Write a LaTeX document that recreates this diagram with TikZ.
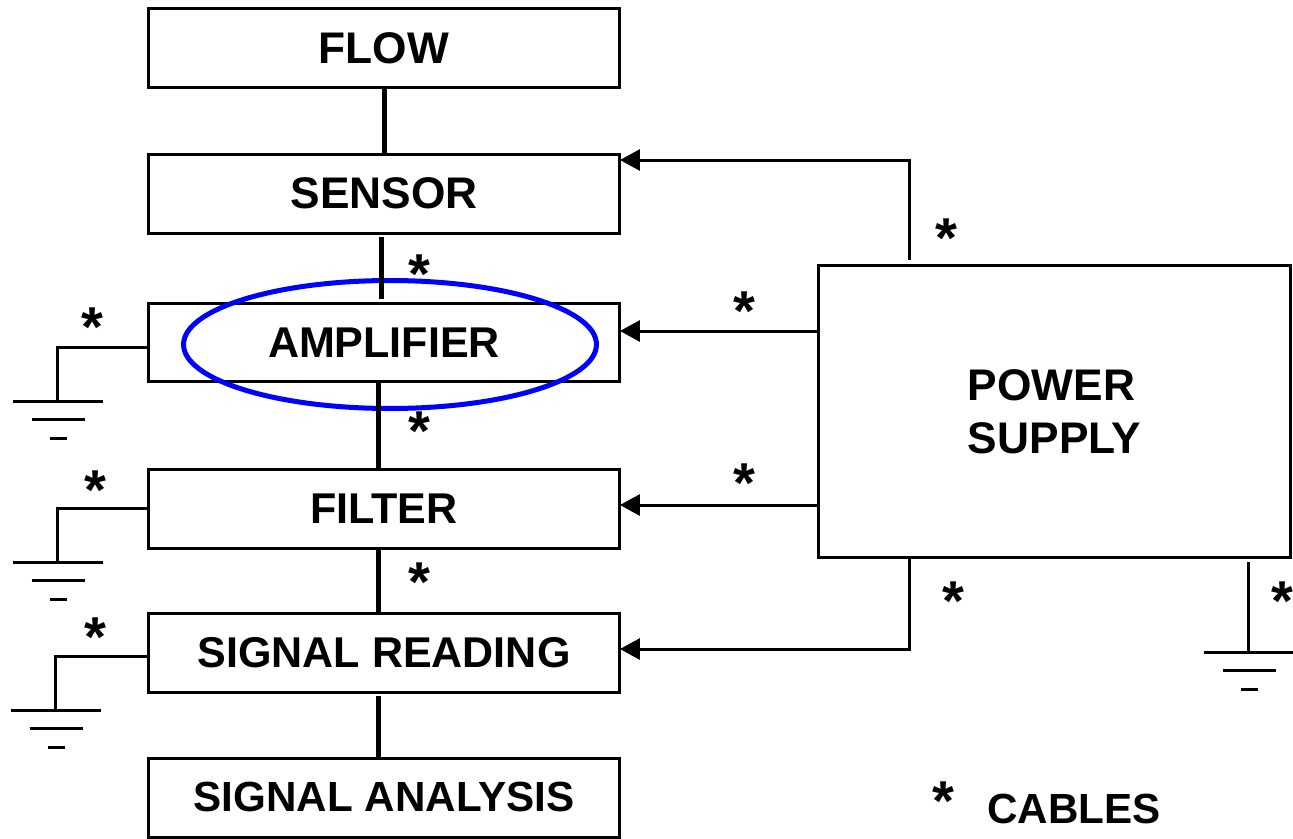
\documentclass[tikz,border=0pt]{standalone}
\usepackage{fontspec}
\setmainfont{Liberation Sans}
\usetikzlibrary{arrows.meta, shapes.geometric}
\tikzset{
    block/.style={draw, line width=0.06cm, outer sep=0pt, minimum width=9.44cm, minimum height=1.58cm, inner sep=0pt, font=\fontsize{24.5}{30}\bfseries\selectfont},
    large/.style={font=\fontsize{25.2}{30}\bfseries\selectfont},
    link/.style={line width=0.1cm},
    wire/.style={line width=0.06cm},
    feed/.style={wire, -{Triangle[length=0.4cm, width=0.42cm]}},
    starmark/.style={inner sep=0pt, font=\fontsize{32}{32}\bfseries\selectfont},
    earth/.pic={
        \draw[wire] (-44.5,0) -- (45.5,0);
        \draw[wire] (-25.5,18) -- (27.5,18);
        \draw[wire] (-7,37) -- (10,37);
    }
}
\begin{document}
\begin{tikzpicture}[x=0.02cm, y=-0.02cm]

    \useasboundingbox (0,0) rectangle (1293,838);

    \node[block, large] (flow) at (384,48) {FLOW};
    \node[block, large] (sensor) at (384,194) {\raisebox{1pt}{SENSOR}};
    \node[block] (amp) at (384,342.5) {AMPLIFIER};
    \node[block] (filter) at (384,508.5) {FILTER};
    \node[block] (reading) at (384,652.5) {SIGNAL READING};
    \node[block, font=\fontsize{24}{30}\bfseries\selectfont] (analysis) at (384,798) {\raisebox{1pt}{SIGNAL ANALYSIS}};

    \node[block, large, minimum height=5.86cm, align=left] (power) at (1054.5,411.5) {POWER\\SUPPLY};

    \node[draw=blue, line width=0.1cm, ellipse, minimum width=8.26cm, minimum height=2.56cm, inner sep=0pt] (ring) at (390,344.5) {};

    % signal chain
    \coordinate (s1) at (381,237);
    \coordinate (a1) at (381,299);
    \coordinate (a2) at (378,382);
    \coordinate (f1) at (378,468);
    \coordinate (f2) at (378,548);
    \coordinate (r1) at (378,612);
    \coordinate (r2) at (378,696);
    \coordinate (n1) at (378,757);

    \draw[link] (flow) -- (sensor);
    \draw[link] (s1) -- (a1);
    \draw[link] (a2) -- (f1);
    \draw[link] (f2) -- (r1);
    \draw[link] (r2) -- (n1);

    % supply lines
    \coordinate (p1) at (909,260);
    \coordinate (p2) at (909,558);

    \draw[feed] (p1) |- (sensor.east |- 0,160);
    \draw[feed] (power.west |- 0,331) -- (amp.east |- 0,331);
    \draw[feed] (power.west |- 0,505) -- (filter.east |- 0,505);
    \draw[feed] (p2) |- (reading.east |- 0,649);

    % grounds
    \coordinate (g1) at (57,401);
    \coordinate (g2) at (57,562);
    \coordinate (g3) at (55,710);
    \coordinate (g4) at (1248,652);
    \coordinate (p3) at (1248,562);

    \draw[wire] (amp.west |- 0,347) -| (g1);
    \draw[wire] (filter.west |- 0,508) -| (g2);
    \draw[wire] (reading.west |- 0,656) -| (g3);
    \draw[wire] (p3) -- (g4);

    \foreach \g in {g1, g2, g3, g4}
        \pic at (\g) {earth};

    % cable marks
    \foreach \x/\y in {92/327, 419/274, 419/431, 95/490, 419/582, 95/637, 744/311, 744/483, 946/238, 953/601, 1282/601, 943/801}
        \node[starmark] at (\x,\y) {*};

    \node[inner sep=0pt, font=\fontsize{24}{30}\bfseries\selectfont] (cables) at (1074,809) {CABLES};

\end{tikzpicture}
\end{document}
